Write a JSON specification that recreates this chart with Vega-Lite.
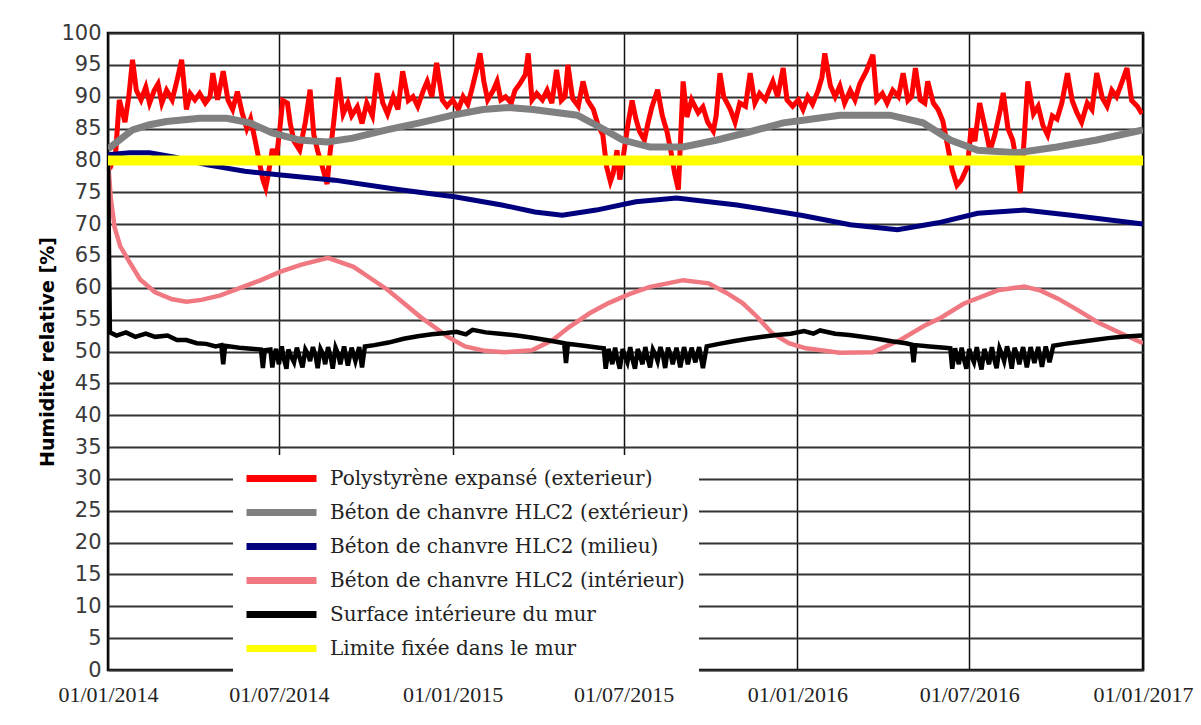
{
"$schema": "https://vega.github.io/schema/vega-lite/v6.json",
"width": 1035, "height": 637,
"autosize": "none",
"padding": {"left": 108, "top": 33, "right": 58, "bottom": 55},
"background": "#ffffff",
"config": {"view": {"stroke": "#000000", "strokeWidth": 2.5}},
"datasets": {
"red": [
{"date":"2014-01-01","rh":81},{"date":"2014-01-05","rh":79.5},{"date":"2014-01-09","rh":81},{"date":"2014-01-13","rh":89.5},{"date":"2014-01-19","rh":86},{"date":"2014-01-23","rh":90},{"date":"2014-01-27","rh":95.8},{"date":"2014-01-31","rh":91},{"date":"2014-02-05","rh":89.5},{"date":"2014-02-10","rh":91.5},{"date":"2014-02-14","rh":89},{"date":"2014-02-19","rh":91},{"date":"2014-02-23","rh":92},{"date":"2014-02-27","rh":89},{"date":"2014-03-04","rh":91},{"date":"2014-03-10","rh":89.5},{"date":"2014-03-15","rh":92.5},{"date":"2014-03-20","rh":95.8},{"date":"2014-03-25","rh":88},{"date":"2014-03-29","rh":90.5},{"date":"2014-04-03","rh":89.5},{"date":"2014-04-08","rh":90.5},{"date":"2014-04-14","rh":89},{"date":"2014-04-19","rh":90},{"date":"2014-04-22","rh":93.7},{"date":"2014-04-27","rh":89.5},{"date":"2014-05-03","rh":94},{"date":"2014-05-08","rh":89.5},{"date":"2014-05-13","rh":88},{"date":"2014-05-18","rh":90.8},{"date":"2014-05-23","rh":87.5},{"date":"2014-05-28","rh":85},{"date":"2014-06-01","rh":86.5},{"date":"2014-06-06","rh":83},{"date":"2014-06-10","rh":80},{"date":"2014-06-14","rh":77},{"date":"2014-06-17","rh":75.7},{"date":"2014-06-20","rh":78},{"date":"2014-06-24","rh":81.8},{"date":"2014-06-28","rh":80},{"date":"2014-07-02","rh":85},{"date":"2014-07-05","rh":89.4},{"date":"2014-07-10","rh":89},{"date":"2014-07-13","rh":85.8},{"date":"2014-07-17","rh":83},{"date":"2014-07-23","rh":81.6},{"date":"2014-07-29","rh":86},{"date":"2014-08-03","rh":91.1},{"date":"2014-08-07","rh":84},{"date":"2014-08-11","rh":81.5},{"date":"2014-08-16","rh":79},{"date":"2014-08-21","rh":76.3},{"date":"2014-08-24","rh":81},{"date":"2014-08-28","rh":86},{"date":"2014-09-02","rh":93},{"date":"2014-09-07","rh":87.3},{"date":"2014-09-12","rh":89},{"date":"2014-09-16","rh":87},{"date":"2014-09-22","rh":88.4},{"date":"2014-09-27","rh":85.8},{"date":"2014-10-02","rh":89},{"date":"2014-10-08","rh":87},{"date":"2014-10-13","rh":93.7},{"date":"2014-10-19","rh":89},{"date":"2014-10-24","rh":87.3},{"date":"2014-10-30","rh":90},{"date":"2014-11-04","rh":88},{"date":"2014-11-09","rh":94},{"date":"2014-11-15","rh":89.4},{"date":"2014-11-20","rh":90},{"date":"2014-11-25","rh":88.5},{"date":"2014-12-01","rh":91},{"date":"2014-12-05","rh":92.4},{"date":"2014-12-10","rh":90},{"date":"2014-12-15","rh":95.3},{"date":"2014-12-21","rh":89.5},{"date":"2014-12-26","rh":88.5},
{"date":"2015-01-01","rh":89.5},{"date":"2015-01-07","rh":88},{"date":"2015-01-12","rh":90},{"date":"2015-01-17","rh":88.8},{"date":"2015-01-21","rh":91},{"date":"2015-01-26","rh":94},{"date":"2015-01-30","rh":96.8},{"date":"2015-02-03","rh":92.4},{"date":"2015-02-07","rh":89.5},{"date":"2015-02-13","rh":91},{"date":"2015-02-17","rh":92.4},{"date":"2015-02-21","rh":89.5},{"date":"2015-02-26","rh":90},{"date":"2015-03-04","rh":89},{"date":"2015-03-08","rh":91},{"date":"2015-03-13","rh":92},{"date":"2015-03-19","rh":93.5},{"date":"2015-03-22","rh":96.8},{"date":"2015-03-26","rh":89.5},{"date":"2015-03-31","rh":90.5},{"date":"2015-04-06","rh":89.5},{"date":"2015-04-11","rh":91},{"date":"2015-04-16","rh":89},{"date":"2015-04-21","rh":94.2},{"date":"2015-04-26","rh":89.4},{"date":"2015-04-30","rh":90},{"date":"2015-05-03","rh":95},{"date":"2015-05-08","rh":89.7},{"date":"2015-05-14","rh":88.5},{"date":"2015-05-19","rh":92.4},{"date":"2015-05-24","rh":89.4},{"date":"2015-05-30","rh":88},{"date":"2015-06-04","rh":85.5},{"date":"2015-06-09","rh":84},{"date":"2015-06-13","rh":79},{"date":"2015-06-17","rh":76.7},{"date":"2015-06-20","rh":78},{"date":"2015-06-24","rh":81.6},{"date":"2015-06-27","rh":77},{"date":"2015-07-01","rh":81},{"date":"2015-07-06","rh":86},{"date":"2015-07-10","rh":89.4},{"date":"2015-07-14","rh":86.5},{"date":"2015-07-18","rh":84.5},{"date":"2015-07-23","rh":83.2},{"date":"2015-07-27","rh":86},{"date":"2015-07-31","rh":88.4},{"date":"2015-08-06","rh":91.1},{"date":"2015-08-11","rh":87},{"date":"2015-08-16","rh":84.5},{"date":"2015-08-20","rh":81.5},{"date":"2015-08-24","rh":78},{"date":"2015-08-28","rh":75.4},{"date":"2015-09-02","rh":92.4},{"date":"2015-09-06","rh":86.8},{"date":"2015-09-11","rh":89.5},{"date":"2015-09-18","rh":87.5},{"date":"2015-09-23","rh":88.4},{"date":"2015-09-28","rh":86},{"date":"2015-10-04","rh":84.6},{"date":"2015-10-07","rh":87},{"date":"2015-10-11","rh":93.7},{"date":"2015-10-15","rh":90},{"date":"2015-10-22","rh":88},{"date":"2015-10-27","rh":86},{"date":"2015-11-01","rh":89},{"date":"2015-11-07","rh":88.5},{"date":"2015-11-12","rh":93.7},{"date":"2015-11-17","rh":89},{"date":"2015-11-22","rh":90.5},{"date":"2015-11-28","rh":89.5},{"date":"2015-12-02","rh":91},{"date":"2015-12-06","rh":92.4},{"date":"2015-12-11","rh":90},{"date":"2015-12-17","rh":94.5},{"date":"2015-12-21","rh":89.5},{"date":"2015-12-27","rh":88.5},
{"date":"2016-01-02","rh":89.5},{"date":"2016-01-07","rh":88},{"date":"2016-01-12","rh":90},{"date":"2016-01-17","rh":88.8},{"date":"2016-01-23","rh":91},{"date":"2016-01-27","rh":93},{"date":"2016-01-30","rh":96.8},{"date":"2016-02-05","rh":91.7},{"date":"2016-02-10","rh":90},{"date":"2016-02-15","rh":91.7},{"date":"2016-02-20","rh":89},{"date":"2016-02-26","rh":91},{"date":"2016-03-02","rh":89.5},{"date":"2016-03-07","rh":92},{"date":"2016-03-14","rh":94},{"date":"2016-03-21","rh":96.6},{"date":"2016-03-25","rh":89.5},{"date":"2016-03-31","rh":90.5},{"date":"2016-04-05","rh":89},{"date":"2016-04-11","rh":91},{"date":"2016-04-17","rh":90},{"date":"2016-04-22","rh":93.7},{"date":"2016-04-27","rh":89.4},{"date":"2016-05-01","rh":90},{"date":"2016-05-05","rh":94.5},{"date":"2016-05-10","rh":89.5},{"date":"2016-05-15","rh":89},{"date":"2016-05-18","rh":92.4},{"date":"2016-05-24","rh":89},{"date":"2016-05-29","rh":88},{"date":"2016-06-03","rh":86.2},{"date":"2016-06-09","rh":81.6},{"date":"2016-06-13","rh":78.5},{"date":"2016-06-18","rh":76.1},{"date":"2016-06-23","rh":77},{"date":"2016-06-29","rh":79},{"date":"2016-07-03","rh":85},{"date":"2016-07-07","rh":83},{"date":"2016-07-12","rh":89},{"date":"2016-07-18","rh":85},{"date":"2016-07-23","rh":81.5},{"date":"2016-07-28","rh":84},{"date":"2016-08-03","rh":88},{"date":"2016-08-06","rh":90.6},{"date":"2016-08-11","rh":85},{"date":"2016-08-16","rh":83.2},{"date":"2016-08-21","rh":79},{"date":"2016-08-24","rh":74.9},{"date":"2016-08-28","rh":83},{"date":"2016-09-01","rh":92.4},{"date":"2016-09-07","rh":87.3},{"date":"2016-09-12","rh":88.5},{"date":"2016-09-17","rh":85.5},{"date":"2016-09-22","rh":84},{"date":"2016-09-27","rh":87},{"date":"2016-10-02","rh":86.5},{"date":"2016-10-07","rh":89},{"date":"2016-10-13","rh":93.7},{"date":"2016-10-18","rh":89.4},{"date":"2016-10-23","rh":87.5},{"date":"2016-10-28","rh":86},{"date":"2016-11-03","rh":89},{"date":"2016-11-08","rh":88},{"date":"2016-11-13","rh":93.7},{"date":"2016-11-19","rh":89.8},{"date":"2016-11-24","rh":88.5},{"date":"2016-11-29","rh":91},{"date":"2016-12-04","rh":90},{"date":"2016-12-10","rh":92.4},{"date":"2016-12-15","rh":94.5},{"date":"2016-12-20","rh":89.4},{"date":"2016-12-26","rh":88.5},{"date":"2016-12-31","rh":87.3}
],
"gray": [
{"date":"2014-01-01","rh":81.8},{"date":"2014-01-27","rh":84.8},{"date":"2014-02-14","rh":85.6},{"date":"2014-03-04","rh":86.1},{"date":"2014-04-08","rh":86.6},{"date":"2014-05-07","rh":86.6},{"date":"2014-05-31","rh":85.9},{"date":"2014-06-24","rh":84.3},{"date":"2014-07-23","rh":83.2},{"date":"2014-08-21","rh":82.9},{"date":"2014-09-17","rh":83.5},{"date":"2014-10-23","rh":84.8},{"date":"2014-11-27","rh":85.9},{"date":"2015-01-01","rh":87.1},{"date":"2015-02-02","rh":88},{"date":"2015-03-01","rh":88.3},{"date":"2015-03-27","rh":88},{"date":"2015-05-13","rh":87.1},{"date":"2015-06-06","rh":85.2},{"date":"2015-06-30","rh":83.2},{"date":"2015-07-29","rh":82.1},{"date":"2015-09-02","rh":82.1},{"date":"2015-10-08","rh":83.2},{"date":"2015-11-12","rh":84.5},{"date":"2015-12-17","rh":85.9},{"date":"2016-01-07","rh":86.3},{"date":"2016-02-15","rh":87.1},{"date":"2016-04-08","rh":87.1},{"date":"2016-05-13","rh":85.9},{"date":"2016-06-11","rh":83.2},{"date":"2016-07-10","rh":81.6},{"date":"2016-08-21","rh":81.2},{"date":"2016-10-02","rh":82.1},{"date":"2016-11-13","rh":83.2},{"date":"2017-01-01","rh":84.8}
],
"blue": [
{"date":"2014-01-01","rh":80.9},{"date":"2014-01-24","rh":81.2},{"date":"2014-02-14","rh":81.2},{"date":"2014-03-13","rh":80.5},{"date":"2014-04-16","rh":79.3},{"date":"2014-05-26","rh":78.3},{"date":"2014-07-03","rh":77.7},{"date":"2014-08-29","rh":76.9},{"date":"2014-11-06","rh":75.4},{"date":"2015-01-03","rh":74.3},{"date":"2015-02-22","rh":73},{"date":"2015-03-29","rh":71.9},{"date":"2015-04-27","rh":71.4},{"date":"2015-06-02","rh":72.2},{"date":"2015-07-14","rh":73.5},{"date":"2015-08-26","rh":74.1},{"date":"2015-10-29","rh":73},{"date":"2016-01-05","rh":71.4},{"date":"2016-02-26","rh":69.9},{"date":"2016-04-16","rh":69.1},{"date":"2016-05-29","rh":70.2},{"date":"2016-07-10","rh":71.7},{"date":"2016-08-28","rh":72.2},{"date":"2016-10-17","rh":71.4},{"date":"2017-01-01","rh":70}
],
"pink": [
{"date":"2014-01-01","rh":80},{"date":"2014-01-04","rh":74},{"date":"2014-01-08","rh":69.5},{"date":"2014-01-14","rh":66.5},{"date":"2014-01-24","rh":64},{"date":"2014-02-04","rh":61.3},{"date":"2014-02-20","rh":59.3},{"date":"2014-03-10","rh":58.2},{"date":"2014-03-25","rh":57.8},{"date":"2014-04-10","rh":58.1},{"date":"2014-04-30","rh":58.8},{"date":"2014-05-21","rh":60},{"date":"2014-06-12","rh":61.2},{"date":"2014-07-02","rh":62.5},{"date":"2014-07-24","rh":63.6},{"date":"2014-08-22","rh":64.7},{"date":"2014-09-18","rh":63.3},{"date":"2014-10-06","rh":61.5},{"date":"2014-10-24","rh":59.7},{"date":"2014-11-11","rh":57.5},{"date":"2014-11-28","rh":55.4},{"date":"2014-12-13","rh":53.8},{"date":"2014-12-27","rh":52.3},{"date":"2015-01-14","rh":50.8},{"date":"2015-02-04","rh":50.1},{"date":"2015-02-25","rh":49.9},{"date":"2015-03-26","rh":50.2},{"date":"2015-04-17","rh":51.8},{"date":"2015-05-04","rh":53.8},{"date":"2015-05-26","rh":56},{"date":"2015-06-15","rh":57.6},{"date":"2015-07-07","rh":59},{"date":"2015-07-28","rh":60.1},{"date":"2015-09-02","rh":61.2},{"date":"2015-09-29","rh":60.7},{"date":"2015-10-18","rh":59.2},{"date":"2015-11-04","rh":57.6},{"date":"2015-11-19","rh":55.5},{"date":"2015-12-05","rh":52.9},{"date":"2015-12-23","rh":51.3},{"date":"2016-01-10","rh":50.5},{"date":"2016-02-15","rh":49.8},{"date":"2016-03-21","rh":49.9},{"date":"2016-04-19","rh":51.8},{"date":"2016-05-14","rh":54},{"date":"2016-06-01","rh":55.3},{"date":"2016-06-25","rh":57.5},{"date":"2016-07-31","rh":59.6},{"date":"2016-08-28","rh":60.2},{"date":"2016-09-14","rh":59.6},{"date":"2016-10-03","rh":58.3},{"date":"2016-10-24","rh":56.5},{"date":"2016-11-14","rh":54.6},{"date":"2016-12-08","rh":52.9},{"date":"2017-01-01","rh":51.3}
],
"black": [
{"date":"2014-01-01","rh":80},{"date":"2014-01-03","rh":53},{"date":"2014-01-10","rh":52.5},{"date":"2014-01-20","rh":53},{"date":"2014-01-30","rh":52.3},{"date":"2014-02-10","rh":52.8},{"date":"2014-02-20","rh":52.3},{"date":"2014-03-05","rh":52.5},{"date":"2014-03-15","rh":51.8},{"date":"2014-03-25","rh":51.8},{"date":"2014-04-05","rh":51.3},{"date":"2014-04-15","rh":51.2},{"date":"2014-04-25","rh":50.8},{"date":"2014-05-01","rh":51},{"date":"2014-05-03","rh":48},{"date":"2014-05-05","rh":50.9},{"date":"2014-05-20","rh":50.6},{"date":"2014-06-05","rh":50.4},{"date":"2014-06-12","rh":50.3},{"date":"2014-06-14","rh":47.4},{"date":"2014-06-16","rh":50.2},{"date":"2014-06-22","rh":50.3},{"date":"2014-06-24","rh":47.5},{"date":"2014-06-26","rh":49.5},{"date":"2014-06-28","rh":50.4},{"date":"2014-07-01","rh":48},{"date":"2014-07-04","rh":50.8},{"date":"2014-07-06","rh":49},{"date":"2014-07-09","rh":47.3},{"date":"2014-07-11","rh":50.3},{"date":"2014-07-14","rh":49.2},{"date":"2014-07-17","rh":48.3},{"date":"2014-07-20","rh":50.6},{"date":"2014-07-23","rh":49},{"date":"2014-07-26","rh":47.5},{"date":"2014-07-29","rh":50.3},{"date":"2014-08-01","rh":49.5},{"date":"2014-08-03","rh":48.5},{"date":"2014-08-06","rh":50.7},{"date":"2014-08-09","rh":49.2},{"date":"2014-08-11","rh":47.4},{"date":"2014-08-14","rh":50.4},{"date":"2014-08-17","rh":49.5},{"date":"2014-08-19","rh":48},{"date":"2014-08-22","rh":50.7},{"date":"2014-08-25","rh":49},{"date":"2014-08-27","rh":47.3},{"date":"2014-08-30","rh":50.6},{"date":"2014-09-02","rh":49.5},{"date":"2014-09-04","rh":48},{"date":"2014-09-08","rh":50.8},{"date":"2014-09-12","rh":47.8},{"date":"2014-09-16","rh":50.6},{"date":"2014-09-20","rh":48.5},{"date":"2014-09-24","rh":50.7},{"date":"2014-09-27","rh":47.5},{"date":"2014-09-30","rh":50.8},{"date":"2014-10-10","rh":51},{"date":"2014-10-25","rh":51.4},{"date":"2014-11-10","rh":52},{"date":"2014-11-25","rh":52.4},{"date":"2014-12-10","rh":52.7},{"date":"2014-12-25","rh":52.9},
{"date":"2015-01-05","rh":53.1},{"date":"2015-01-15","rh":52.7},{"date":"2015-01-22","rh":53.4},{"date":"2015-02-05","rh":53},{"date":"2015-02-20","rh":52.8},{"date":"2015-03-10","rh":52.5},{"date":"2015-03-25","rh":52.2},{"date":"2015-04-10","rh":51.8},{"date":"2015-04-25","rh":51.4},{"date":"2015-04-29","rh":51.3},{"date":"2015-05-01","rh":48.2},{"date":"2015-05-03","rh":51.2},{"date":"2015-05-20","rh":50.9},{"date":"2015-06-05","rh":50.6},{"date":"2015-06-10","rh":50.5},{"date":"2015-06-12","rh":47.3},{"date":"2015-06-15","rh":50.4},{"date":"2015-06-17","rh":49.3},{"date":"2015-06-19","rh":48},{"date":"2015-06-22","rh":50.6},{"date":"2015-06-24","rh":49},{"date":"2015-06-27","rh":47.3},{"date":"2015-06-30","rh":50.4},{"date":"2015-07-02","rh":49.4},{"date":"2015-07-05","rh":48.3},{"date":"2015-07-08","rh":50.7},{"date":"2015-07-10","rh":49},{"date":"2015-07-13","rh":47.3},{"date":"2015-07-16","rh":50.4},{"date":"2015-07-18","rh":49.5},{"date":"2015-07-21","rh":48},{"date":"2015-07-24","rh":50.7},{"date":"2015-07-26","rh":49.2},{"date":"2015-07-29","rh":47.5},{"date":"2015-08-01","rh":50.3},{"date":"2015-08-04","rh":49.4},{"date":"2015-08-06","rh":48.5},{"date":"2015-08-09","rh":50.7},{"date":"2015-08-12","rh":49.1},{"date":"2015-08-14","rh":47.4},{"date":"2015-08-17","rh":50.6},{"date":"2015-08-20","rh":49.4},{"date":"2015-08-22","rh":48},{"date":"2015-08-26","rh":50.6},{"date":"2015-08-30","rh":47.5},{"date":"2015-09-03","rh":50.7},{"date":"2015-09-07","rh":48},{"date":"2015-09-11","rh":50.6},{"date":"2015-09-15","rh":48.3},{"date":"2015-09-19","rh":50.7},{"date":"2015-09-23","rh":47.4},{"date":"2015-09-27","rh":50.8},{"date":"2015-10-10","rh":51.2},{"date":"2015-10-25","rh":51.6},{"date":"2015-11-10","rh":52},{"date":"2015-11-25","rh":52.3},{"date":"2015-12-10","rh":52.6},{"date":"2015-12-25","rh":52.8},
{"date":"2016-01-08","rh":53.2},{"date":"2016-01-18","rh":52.8},{"date":"2016-01-25","rh":53.3},{"date":"2016-02-10","rh":52.8},{"date":"2016-02-25","rh":52.6},{"date":"2016-03-10","rh":52.3},{"date":"2016-03-25","rh":52},{"date":"2016-04-10","rh":51.6},{"date":"2016-04-25","rh":51.3},{"date":"2016-05-01","rh":51.1},{"date":"2016-05-03","rh":48.3},{"date":"2016-05-05","rh":51},{"date":"2016-05-20","rh":50.8},{"date":"2016-06-05","rh":50.6},{"date":"2016-06-11","rh":50.5},{"date":"2016-06-13","rh":47.3},{"date":"2016-06-16","rh":50.5},{"date":"2016-06-18","rh":49.2},{"date":"2016-06-20","rh":48},{"date":"2016-06-23","rh":50.6},{"date":"2016-06-25","rh":49},{"date":"2016-06-28","rh":47.3},{"date":"2016-07-01","rh":50.4},{"date":"2016-07-03","rh":49.3},{"date":"2016-07-06","rh":48.3},{"date":"2016-07-09","rh":50.7},{"date":"2016-07-11","rh":49},{"date":"2016-07-14","rh":47.2},{"date":"2016-07-17","rh":50.4},{"date":"2016-07-19","rh":49.4},{"date":"2016-07-22","rh":48},{"date":"2016-07-25","rh":50.7},{"date":"2016-07-27","rh":49.1},{"date":"2016-07-30","rh":47.4},{"date":"2016-08-02","rh":50.5},{"date":"2016-08-05","rh":49.4},{"date":"2016-08-07","rh":48.5},{"date":"2016-08-10","rh":50.8},{"date":"2016-08-13","rh":49.1},{"date":"2016-08-15","rh":47.3},{"date":"2016-08-18","rh":50.6},{"date":"2016-08-21","rh":49.4},{"date":"2016-08-23","rh":48},{"date":"2016-08-27","rh":50.7},{"date":"2016-08-31","rh":47.5},{"date":"2016-09-04","rh":50.7},{"date":"2016-09-08","rh":48.2},{"date":"2016-09-12","rh":50.7},{"date":"2016-09-16","rh":47.6},{"date":"2016-09-20","rh":50.8},{"date":"2016-09-24","rh":48.3},{"date":"2016-09-28","rh":50.9},{"date":"2016-10-10","rh":51.2},{"date":"2016-10-25","rh":51.5},{"date":"2016-11-10","rh":51.8},{"date":"2016-11-25","rh":52.1},{"date":"2016-12-10","rh":52.3},{"date":"2016-12-31","rh":52.5}
],
"yellow": [
{"date":"2014-01-01","rh":80},{"date":"2017-01-01","rh":80}
]
},
"encoding": {
"x": {"field": "date", "type": "temporal",
 "scale": {"type": "utc", "domain": [{"year":2014,"month":1,"date":1,"utc":true},{"year":2017,"month":1,"date":1,"utc":true}]},
 "axis": {"title": null, "format": "%d/%m/%Y",
  "values": [{"year":2014,"month":1,"date":1,"utc":true},{"year":2014,"month":7,"date":1,"utc":true},{"year":2015,"month":1,"date":1,"utc":true},{"year":2015,"month":7,"date":1,"utc":true},{"year":2016,"month":1,"date":1,"utc":true},{"year":2016,"month":7,"date":1,"utc":true},{"year":2017,"month":1,"date":1,"utc":true}],
  "labelFont": "Liberation Serif", "labelFontSize": 22, "labelColor": "#222222", "labelPadding": 14,
  "labelFlush": false, "labelOverlap": false, "ticks": false, "domain": false,
  "grid": true, "gridColor": "#111111", "gridWidth": 1.5, "gridOpacity": 1}},
"y": {"field": "rh", "type": "quantitative",
 "scale": {"domain": [0, 100], "nice": false, "zero": false},
 "axis": {"title": "Humidité relative [%]", "titleFont": "DejaVu Sans", "titleFontWeight": "bold", "titleFontSize": 19, "titleColor": "#000000", "titlePadding": 3,
  "values": [0,5,10,15,20,25,30,35,40,45,50,55,60,65,70,75,80,85,90,95,100],
  "labelFont": "DejaVu Sans", "labelFontSize": 21, "labelColor": "#3a3a3a", "labelPadding": 7, "labelFlush": false,
  "ticks": false, "domain": false, "grid": true, "gridColor": "#333333", "gridWidth": 2, "gridOpacity": 1}}
},
"layer": [
{"data": {"name": "red"}, "mark": {"type": "line", "strokeWidth": 5, "clip": true},
 "encoding": {"color": {"datum": "Polystyrène expansé (exterieur)", "type": "nominal",
  "scale": {"domain": ["Polystyrène expansé (exterieur)", "Béton de chanvre HLC2 (extérieur)", "Béton de chanvre HLC2 (milieu)", "Béton de chanvre HLC2 (intérieur)", "Surface intérieure du mur", "Limite fixée dans le mur"],
   "range": ["#ff0000", "#808080", "#00007f", "#f07880", "#000000", "#ffff00"]},
  "legend": {"title": null, "orient": "none", "legendX": 125, "legendY": 422, "direction": "vertical",
   "fillColor": "#ffffff", "padding": 10, "symbolType": "M-1,0H6", "symbolSize": 400, "symbolStrokeWidth": 7,
   "labelFont": "DejaVu Serif", "labelFontSize": 20, "labelColor": "#222222", "labelLimit": 700, "labelOffset": 60, "rowPadding": 5,
   "encode": {"symbols": {"enter": {"stroke": {"signal": "datum.label === 'Béton de chanvre HLC2 (intérieur)' ? '#f0783c' : scale('color', datum.value)"}}, "update": {"stroke": {"signal": "datum.label === 'Béton de chanvre HLC2 (intérieur)' ? '#f0783c' : scale('color', datum.value)"}}}}}}}},
{"data": {"name": "gray"}, "mark": {"type": "line", "strokeWidth": 7, "clip": true},
 "encoding": {"color": {"datum": "Béton de chanvre HLC2 (extérieur)", "type": "nominal"}}},
{"data": {"name": "blue"}, "mark": {"type": "line", "strokeWidth": 5, "clip": true},
 "encoding": {"color": {"datum": "Béton de chanvre HLC2 (milieu)", "type": "nominal"}}},
{"data": {"name": "pink"}, "mark": {"type": "line", "strokeWidth": 4.5, "clip": true},
 "encoding": {"color": {"datum": "Béton de chanvre HLC2 (intérieur)", "type": "nominal"}}},
{"data": {"name": "black"}, "mark": {"type": "line", "strokeWidth": 4.5, "clip": true},
 "encoding": {"color": {"datum": "Surface intérieure du mur", "type": "nominal"}}},
{"data": {"name": "yellow"}, "mark": {"type": "line", "strokeWidth": 10, "clip": true},
 "encoding": {"color": {"datum": "Limite fixée dans le mur", "type": "nominal"}}}
]
}
